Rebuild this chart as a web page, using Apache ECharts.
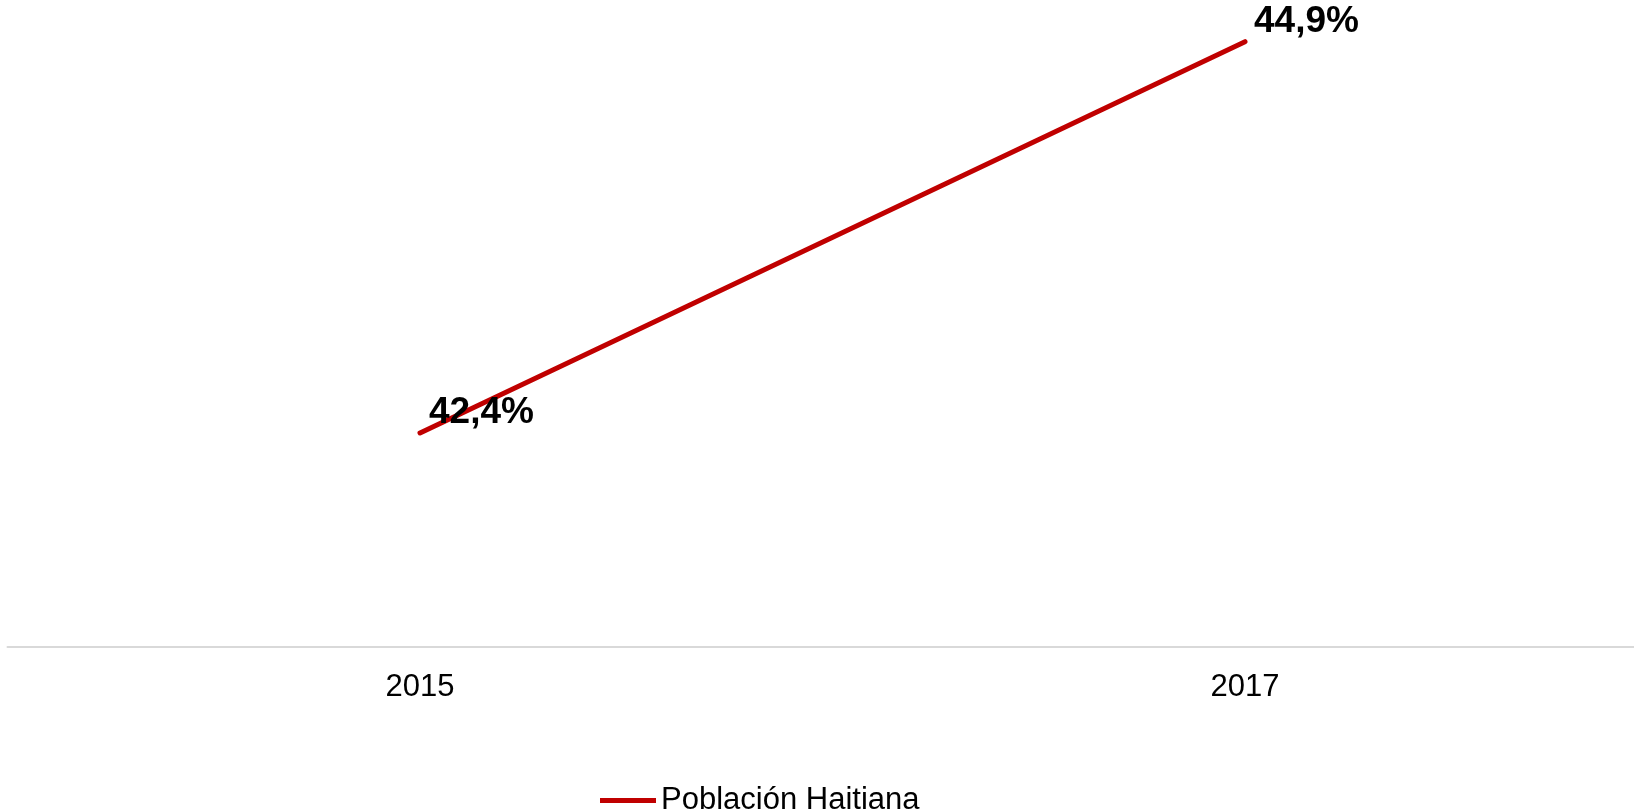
<!DOCTYPE html>
<html>
<head>
<meta charset="utf-8">
<script src="https://cdn.jsdelivr.net/npm/echarts@6/dist/echarts.min.js"></script>
<style>
  html, body { margin: 0; padding: 0; background: #fff; }
  #container { width: 1634px; height: 812px; }
</style>
</head>
<body>
<div id="container"></div>
<script>
let years = ['2015', '2017'];
let haitiana = [42.4, 44.9];
let seriesName = 'Población Haitiana';

let dom = document.getElementById('container');
let chart = echarts.init(dom);
chart.setOption({
    animation: false,
    textStyle: { fontFamily: 'Liberation Sans, Arial, sans-serif' },
    grid: {
        left: 7.5,
        width: 1650,
        top: 26,
        bottom: 160,
        containLabel: false,
        outerBoundsMode: 'none'
    },
    legend: {
        left: 595,
        top: 780,
        itemWidth: 56,
        itemHeight: 5,
        itemGap: 10,
        icon: 'rect',
        textStyle: { fontSize: 31, color: '#000' },
        data: [seriesName]
    },
    xAxis: {
        type: 'category',
        data: years,
        offset: -5,
        axisLine: { lineStyle: { color: '#d9d9d9', width: 2 } },
        axisTick: { show: false },
        axisLabel: { fontSize: 31, color: '#000', margin: 25 }
    },
    yAxis: {
        type: 'value',
        min: 41,
        max: 45,
        show: false,
        splitLine: { show: false }
    },
    series: [{
        name: seriesName,
        type: 'line',
        data: haitiana,
        showSymbol: true,
        symbol: 'circle',
        symbolSize: 0,
        lineStyle: { color: '#c00000', width: 5, cap: 'round' },
        itemStyle: { color: '#c00000' },
        label: {
            show: true,
            position: 'right',
            distance: 9,
            offset: [0, -20],
            fontSize: 37,
            fontWeight: 'bold',
            color: '#000',
            formatter: (p) => p.value.toFixed(1).replace('.', ',') + '%'
        }
    }]
});
</script>
</body>
</html>
